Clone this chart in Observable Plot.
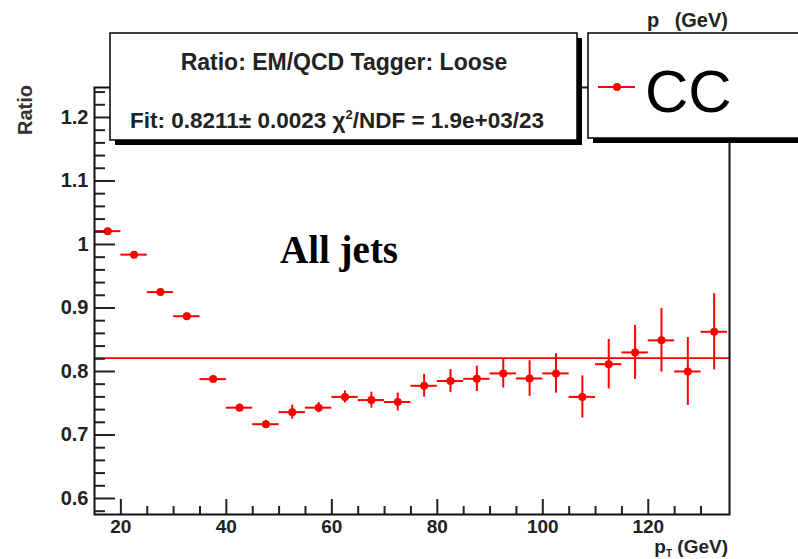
<!DOCTYPE html>
<html><head><meta charset="utf-8">
<script src="https://cdn.jsdelivr.net/npm/d3@7"></script>
<script src="https://cdn.jsdelivr.net/npm/@observablehq/plot@0.6"></script>
<style>body{margin:0;background:#fff} svg{display:block}</style>
</head><body><div id="chart"></div>
<script>
const binCenters = [17.5,22.5,27.5,32.5,37.5,42.5,47.5,52.5,57.5,62.5,67.5,72.5,77.5,82.5,87.5,92.5,97.5,102.5,107.5,112.5,117.5,122.5,127.5,132.5];
const binHalfWidth = 2.5;
const ratio = [1.021,0.984,0.925,0.887,0.788,0.743,0.717,0.736,0.743,0.760,0.755,0.752,0.7775,0.785,0.7885,0.797,0.789,0.797,0.760,0.8115,0.830,0.849,0.800,0.8625];
const ratioErr = [0.004,0.004,0.005,0.005,0.005,0.006,0.006,0.011,0.008,0.0095,0.0125,0.014,0.018,0.018,0.020,0.023,0.028,0.031,0.033,0.039,0.0425,0.050,0.0535,0.060];
const fitValue = 0.8211;
const xMajorTicks = [20,40,60,80,100,120];
const xTickLabels = ["20","40","60","80","100","120"];
const xMinorTicks = [25,30,35,45,50,55,65,70,75,85,90,95,105,110,115,125,130];
const yMajorTicks = [0.6,0.7,0.8,0.9,1.0,1.1,1.2];
const yTickLabels = ["0.6","0.7","0.8","0.9","1","1.1","1.2"];
const yMinorTicks = [0.58,0.62,0.64,0.66,0.68,0.72,0.74,0.76,0.78,0.82,0.84,0.86,0.88,0.92,0.94,0.96,0.98,1.02,1.04,1.06,1.08,1.12,1.14,1.16,1.18,1.22,1.24];

const statTitle = "Ratio: EM/QCD Tagger: Loose";
const statFitParts = ["Fit: 0.8211\u00b1 0.0023 \u03c7", "2", "/NDF = 1.9e+03/23"];
const legendLabel = "CC";
const annotation = "All jets";
const yLabel = "Ratio";

const points = binCenters.map((x, i) => ({
  x, lo: x - binHalfWidth, hi: x + binHalfWidth,
  y: ratio[i], y1: ratio[i] - ratioErr[i], y2: ratio[i] + ratioErr[i]
}));

const red = "#ff0000";
const ink = "#222";
const sans = "'Liberation Sans', Arial, Helvetica, sans-serif";

const plot = Plot.plot({
  width: 798, height: 559,
  marginLeft: 94, marginRight: 69, marginTop: 87, marginBottom: 45,
  x: {domain: [15, 135.4]},
  y: {domain: [0.5748, 1.2472]},
  style: {background: "#fff", fontFamily: sans},
  marks: [
    Plot.ruleY([fitValue], {stroke: red, strokeWidth: 1.6}),
    Plot.ruleY(points, {y: "y", x1: "lo", x2: "hi", stroke: red, strokeWidth: 2}),
    Plot.ruleX(points, {x: "x", y1: "y1", y2: "y2", stroke: red, strokeWidth: 2}),
    Plot.dot(points, {x: "x", y: "y", r: 4, fill: red}),
    Plot.axisY(yMajorTicks, {anchor: "left", tickSize: -21, fill: "none", stroke: ink, strokeWidth: 2, label: null}),
    Plot.axisY(yMinorTicks, {anchor: "left", tickSize: -11, fill: "none", stroke: ink, strokeWidth: 2, label: null}),
    Plot.axisY(yMajorTicks, {anchor: "left", tickSize: 0, tickPadding: 6, tickFormat: d => yTickLabels[yMajorTicks.indexOf(d)], fontSize: 20, fontWeight: "bold", fill: ink, label: null}),
    Plot.axisX(xMajorTicks, {anchor: "bottom", tickSize: -15, fill: "none", stroke: ink, strokeWidth: 2, label: null}),
    Plot.axisX(xMinorTicks, {anchor: "bottom", tickSize: -8, fill: "none", stroke: ink, strokeWidth: 2, label: null}),
    Plot.axisX(xMajorTicks, {anchor: "bottom", tickSize: 0, tickPadding: 5, tickFormat: d => xTickLabels[xMajorTicks.indexOf(d)], fontSize: 19, fontWeight: "bold", fill: ink, label: null}),
    Plot.frame({stroke: "#111", strokeWidth: 2})
  ]
});

document.getElementById("chart").appendChild(plot);
const svg = d3.select(plot);
const g = svg.append("g").attr("text-anchor", "start");

function label(x, y, txt, size, opts = {}) {
  return g.append("text").attr("x", x).attr("y", y)
    .attr("text-anchor", opts.anchor || "start")
    .attr("font-family", opts.family || sans)
    .attr("font-size", size)
    .attr("font-weight", opts.weight || "bold")
    .attr("fill", opts.fill || ink)
    .text(txt);
}

// top axis title (partly hidden behind boxes)
label(647, 27, "p", 20);
label(728, 27, "(GeV)", 20, {anchor: "end"});

function box(x, y, w, h) {
  g.append("rect").attr("x", x + 5).attr("y", y + 5).attr("width", w).attr("height", h).attr("fill", "#000");
  g.append("rect").attr("x", x).attr("y", y).attr("width", w).attr("height", h).attr("fill", "#fff").attr("stroke", "#000").attr("stroke-width", 1.5);
}
box(110, 33, 467, 107);
box(588, 33, 240, 105);

label(344, 70, statTitle, 23, {anchor: "middle"});
const fit = label(130, 128, "", 22.5);
fit.append("tspan").text(statFitParts[0]);
fit.append("tspan").attr("font-size", 13).attr("dy", -9).text(statFitParts[1]);
fit.append("tspan").attr("dy", 9).text(statFitParts[2]);

// legend entry
g.append("line").attr("x1", 598).attr("x2", 635).attr("y1", 87).attr("y2", 87).attr("stroke", red).attr("stroke-width", 2);
g.append("circle").attr("cx", 617).attr("cy", 87).attr("r", 4).attr("fill", red);
label(645, 112, legendLabel, 60, {weight: "normal", fill: "#000"});

// annotation
label(280, 263, annotation, 39, {family: "'Liberation Serif', 'Times New Roman', serif", fill: "#000"});

// y axis title
g.append("text").attr("transform", "translate(32,85) rotate(-90)").attr("text-anchor", "end").attr("font-family", sans).attr("font-size", 20).attr("font-weight", "bold").attr("fill", "#333").text(yLabel);

// x axis title
const xt = g.append("text").attr("x", 728).attr("y", 553).attr("text-anchor", "end").attr("font-family", sans).attr("font-size", 19).attr("font-weight", "bold").attr("fill", ink);
xt.append("tspan").text("p");
xt.append("tspan").attr("font-size", 10).attr("dy", 4).text("T");
xt.append("tspan").attr("dy", -4).text(" (GeV)");
</script>
</body></html>
